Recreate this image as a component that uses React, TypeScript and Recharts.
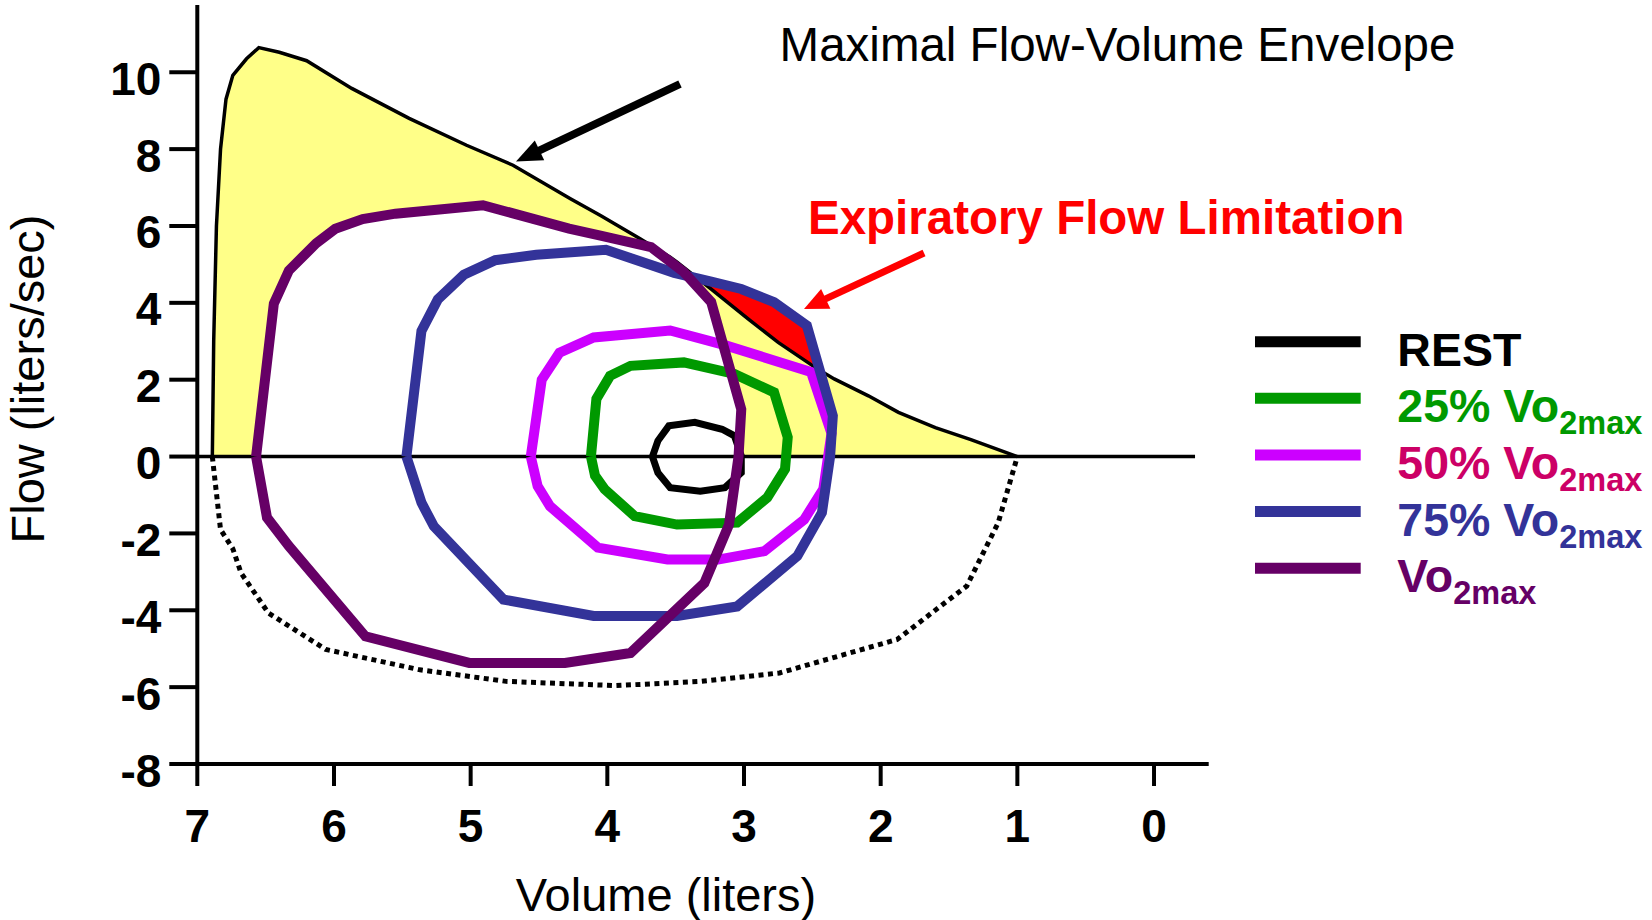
import React from 'react';
import {
  ComposedChart,
  Line,
  Area,
  XAxis,
  YAxis,
  ReferenceLine,
  Legend,
  Label,
} from 'recharts';

const FONT = '"Liberation Sans", Arial, Helvetica, sans-serif';

// Axis ticks
const volumeTicks = [7, 6, 5, 4, 3, 2, 1, 0];
const flowTicks = [-8, -6, -4, -2, 0, 2, 4, 6, 8, 10];

// Maximal flow-volume envelope, expiratory limb [volume, flow]
const envelopeExpiratory = [
  [6.89, 0], [6.88, 3.0], [6.86, 6.0], [6.83, 8.0], [6.79, 9.3], [6.74, 9.92],
  [6.64, 10.35], [6.55, 10.64], [6.4, 10.52], [6.2, 10.3], [5.87, 9.58],
  [5.45, 8.8], [5.03, 8.1], [4.69, 7.58], [4.27, 6.71], [4.05, 6.27],
  [3.76, 5.67], [3.54, 5.19], [3.49, 5.06], [3.24, 4.36], [2.97, 3.58],
  [2.75, 2.97], [2.48, 2.32], [2.34, 2.02], [2.09, 1.58], [1.87, 1.15],
  [1.6, 0.75], [1.34, 0.44], [1.0, 0],
];

// Maximal flow-volume envelope, inspiratory limb [volume, flow]
const envelopeInspiratory = [
  [6.89, 0], [6.83, -1.9], [6.74, -2.4], [6.68, -3.03], [6.48, -4.07],
  [6.06, -5.02], [5.37, -5.55], [4.74, -5.85], [3.94, -5.96], [3.31, -5.85],
  [2.74, -5.63], [1.88, -4.76], [1.37, -3.37], [1.14, -1.72], [1.0, 0],
];

// Tidal flow-volume loops [volume, flow]
const restLoop = [
  [3.67, 0], [3.63, 0.41], [3.55, 0.8], [3.36, 0.89], [3.16, 0.71], [3.07, 0.54],
  [3.02, 0.02], [3.02, -0.42], [3.14, -0.81], [3.32, -0.9], [3.54, -0.81],
  [3.63, -0.42], [3.67, 0],
];

const loop25 = [
  [4.12, 0], [4.08, 1.5], [3.98, 2.1], [3.83, 2.36], [3.44, 2.45], [3.07, 2.15],
  [2.78, 1.67], [2.68, 0.5], [2.7, -0.33], [2.83, -1.07], [3.05, -1.72],
  [3.49, -1.77], [3.8, -1.55], [4.02, -0.85], [4.09, -0.5], [4.12, 0],
];

const loop50 = [
  [4.56, 0], [4.48, 2.0], [4.35, 2.7], [4.1, 3.1], [3.54, 3.28], [3.14, 2.9],
  [2.51, 2.2], [2.36, 0.6], [2.42, -0.85], [2.56, -1.64], [2.85, -2.46],
  [3.19, -2.68], [3.56, -2.68], [4.07, -2.37], [4.42, -1.29], [4.51, -0.77],
  [4.56, 0],
];

const loop75 = [
  [5.47, 0], [5.36, 3.27], [5.24, 4.09], [5.05, 4.73], [4.82, 5.11], [4.52, 5.25],
  [4.01, 5.38], [3.51, 4.78], [3.24, 4.55], [3.02, 4.36], [2.78, 4.02],
  [2.54, 3.41], [2.35, 1.06], [2.37, 0], [2.43, -1.46], [2.61, -2.59],
  [3.05, -3.9], [3.49, -4.15], [4.1, -4.15], [4.76, -3.72], [5.27, -1.81],
  [5.36, -1.2], [5.47, 0],
];

const loopMax = [
  [6.57, 0], [6.44, 3.98], [6.33, 4.84], [6.13, 5.55], [5.99, 5.93], [5.79, 6.18],
  [5.55, 6.32], [4.91, 6.54], [4.28, 5.93], [4.05, 5.75], [3.68, 5.45],
  [3.44, 4.8], [3.24, 4.02], [3.02, 1.23], [3.04, 0], [3.11, -1.77],
  [3.29, -3.29], [3.83, -5.11], [4.31, -5.37], [5.01, -5.37], [5.77, -4.68],
  [6.33, -2.33], [6.49, -1.59], [6.57, 0],
];

// Expiratory flow limitation: flow between the envelope (low) and the 75% loop (high)
const limitationBand = [
  [3.36, 4.68, 4.68], [3.24, 4.36, 4.55], [3.02, 3.72, 4.36], [2.78, 3.05, 4.02],
  [2.54, 2.46, 3.41], [2.46, 2.28, 2.42], [2.45, 2.26, 2.26],
];

// Legend entries
const legendColors = ['#000000', '#009900', '#CC00FF', '#333399', '#660066'];
const legendTextColors = ['#000000', '#009900', '#CC0066', '#333399', '#660066'];
const legendMain = ['REST', '25% Vo', '50% Vo', '75% Vo', 'Vo'];
const legendSub = ['', '2max', '2max', '2max', '2max'];

type Pt = { v: number; f: number };
const toPts = (arr: number[][]): Pt[] => arr.map(([v, f]) => ({ v, f }));

const envExpPts = toPts(envelopeExpiratory);
const envInspPts = toPts(envelopeInspiratory);
const restPts = toPts(restLoop);
const pts25 = toPts(loop25);
const pts50 = toPts(loop50);
const pts75 = toPts(loop75);
const ptsMax = toPts(loopMax);
// expiratory half of the Vo2max loop (down to the zero-flow crossing)
const ptsMaxExp = ptsMax.slice(0, 15);
const bandPts = limitationBand.map(([v, lo, hi]) => ({ v, band: [lo, hi] }));

const renderYTick = (p: any) => (
  <text
    x={p.x}
    y={p.y + 22.5}
    textAnchor="end"
    fontFamily={FONT}
    fontSize={46}
    fontWeight="bold"
    fill="#000"
  >
    {p.payload.value}
  </text>
);

const renderXTick = (p: any) => (
  <text
    x={p.x}
    y={p.y + 54}
    textAnchor="middle"
    fontFamily={FONT}
    fontSize={46}
    fontWeight="bold"
    fill="#000"
  >
    {p.payload.value}
  </text>
);

const LegendBox = () => {
  const rowY = [41.7, 98.3, 155, 211.6, 268.2];
  return (
    <svg width={402} height={340} style={{ display: 'block', overflow: 'visible' }}>
      {legendMain.map((m, i) => (
        <g key={m + i}>
          <line
            x1={5}
            x2={110.7}
            y1={rowY[i]}
            y2={rowY[i]}
            stroke={legendColors[i]}
            strokeWidth={11}
          />
          <text
            x={147.3}
            y={rowY[i] + 24}
            fontFamily={FONT}
            fontSize={46.5}
            fontWeight="bold"
            fill={legendTextColors[i]}
          >
            {m}
            {legendSub[i] && (
              <tspan dy={12} fontSize={32.5}>
                {legendSub[i]}
              </tspan>
            )}
          </text>
        </g>
      ))}
    </svg>
  );
};

const Arrow = ({
  x1, y1, x2, y2, color, width, head, half,
}: {
  x1: number; y1: number; x2: number; y2: number; color: string;
  width: number; head: number; half: number;
}) => {
  const dx = x2 - x1;
  const dy = y2 - y1;
  const len = Math.hypot(dx, dy);
  const ux = dx / len;
  const uy = dy / len;
  const bx = x2 - ux * head;
  const by = y2 - uy * head;
  const nx = -uy;
  const ny = ux;
  return (
    <g>
      <line x1={x1} y1={y1} x2={bx + ux * 2} y2={by + uy * 2} stroke={color} strokeWidth={width} />
      <polygon
        points={`${x2},${y2} ${bx + nx * half},${by + ny * half} ${bx - nx * half},${by - ny * half}`}
        fill={color}
      />
    </g>
  );
};

export default function App() {
  return (
    <div
      style={{
        position: 'absolute',
        left: 0,
        top: 0,
        width: 1652,
        height: 920,
        background: '#fff',
      }}
    >
      <ComposedChart
        width={1652}
        height={920}
        margin={{ top: 5, right: 443.3, bottom: 0, left: 0 }}
      >
        <XAxis
          type="number"
          dataKey="v"
          domain={[-0.4, 7]}
          reversed
          allowDataOverflow
          ticks={volumeTicks}
          interval={0}
          height={156}
          tickSize={22}
          tickMargin={2}
          axisLine={{ stroke: '#000', strokeWidth: 4 }}
          tickLine={{ stroke: '#000', strokeWidth: 4 }}
          tick={renderXTick}
        >
          <Label
            content={() => (
              <text
                x={666}
                y={911}
                textAnchor="middle"
                fontFamily={FONT}
                fontSize={47}
                fill="#000"
              >
                Volume (liters)
              </text>
            )}
          />
        </XAxis>
        <YAxis
          type="number"
          domain={[-8, 11.75]}
          allowDataOverflow
          ticks={flowTicks}
          interval={0}
          width={197.3}
          tickSize={28}
          tickMargin={8}
          axisLine={{ stroke: '#000', strokeWidth: 4 }}
          tickLine={{ stroke: '#000', strokeWidth: 4 }}
          tick={renderYTick}
        >
          <Label
            content={() => (
              <text
                x={43.5}
                y={379}
                transform="rotate(-90, 43.5, 379)"
                textAnchor="middle"
                fontFamily={FONT}
                fontSize={47}
                fill="#000"
              >
                Flow (liters/sec)
              </text>
            )}
          />
        </YAxis>

        {/* envelope fill */}
        <Area
          data={envExpPts}
          dataKey="f"
          baseValue={0}
          type="linear"
          fill="#FFFF88"
          fillOpacity={1}
          stroke="none"
          isAnimationActive={false}
          legendType="none"
          dot={false}
          activeDot={false}
        />
        {/* interior of the Vo2max loop stays white */}
        <Area
          data={ptsMaxExp}
          dataKey="f"
          baseValue={0}
          type="linear"
          fill="#FFFFFF"
          fillOpacity={1}
          stroke="none"
          isAnimationActive={false}
          legendType="none"
          dot={false}
          activeDot={false}
        />
        {/* flow limitation region */}
        <Area
          data={bandPts}
          dataKey="band"
          type="linear"
          fill="#FF0000"
          fillOpacity={1}
          stroke="none"
          isAnimationActive={false}
          legendType="none"
          dot={false}
          activeDot={false}
        />

        <ReferenceLine
          segment={[{ x: 7, y: 0 }, { x: -0.3, y: 0 }]}
          stroke="#000"
          strokeWidth={3.5}
        />

        <Line
          data={envExpPts}
          dataKey="f"
          type="linear"
          stroke="#000"
          strokeWidth={3.5}
          dot={false}
          activeDot={false}
          isAnimationActive={false}
          legendType="none"
        />
        <Line
          data={envInspPts}
          dataKey="f"
          type="linear"
          stroke="#000"
          strokeWidth={5}
          strokeDasharray="5 4.5"
          dot={false}
          activeDot={false}
          isAnimationActive={false}
          legendType="none"
        />

        <Line
          name="REST"
          data={restPts}
          dataKey="f"
          type="linear"
          stroke="#000000"
          strokeWidth={7}
          dot={false}
          activeDot={false}
          isAnimationActive={false}
        />
        <Line
          name="25% Vo2max"
          data={pts25}
          dataKey="f"
          type="linear"
          stroke="#009900"
          strokeWidth={10}
          dot={false}
          activeDot={false}
          isAnimationActive={false}
        />
        <Line
          name="50% Vo2max"
          data={pts50}
          dataKey="f"
          type="linear"
          stroke="#CC00FF"
          strokeWidth={10}
          dot={false}
          activeDot={false}
          isAnimationActive={false}
        />
        <Line
          name="75% Vo2max"
          data={pts75}
          dataKey="f"
          type="linear"
          stroke="#333399"
          strokeWidth={10}
          dot={false}
          activeDot={false}
          isAnimationActive={false}
        />
        <Line
          name="Vo2max"
          data={ptsMax}
          dataKey="f"
          type="linear"
          stroke="#660066"
          strokeWidth={10}
          dot={false}
          activeDot={false}
          isAnimationActive={false}
        />

        <Legend
          layout="horizontal"
          verticalAlign="middle"
          align="center"
          wrapperStyle={{ left: 1250, top: 300, width: 402, height: 340 }}
          content={() => <LegendBox />}
        />
      </ComposedChart>

      <svg
        width={1652}
        height={920}
        style={{ position: 'absolute', left: 0, top: 0, pointerEvents: 'none' }}
      >
        <text x={779.6} y={61} fontFamily={FONT} fontSize={47.5} fill="#000">
          Maximal Flow-Volume Envelope
        </text>
        <text
          x={808}
          y={234}
          fontFamily={FONT}
          fontSize={47.5}
          fontWeight="bold"
          fill="#FF0000"
        >
          Expiratory Flow Limitation
        </text>
        <Arrow x1={680} y1={84} x2={516} y2={161.5} color="#000" width={8} head={26} half={11} />
        <Arrow x1={924} y1={253} x2={804} y2={309} color="#FF0000" width={7} head={24} half={11} />
      </svg>
    </div>
  );
}
